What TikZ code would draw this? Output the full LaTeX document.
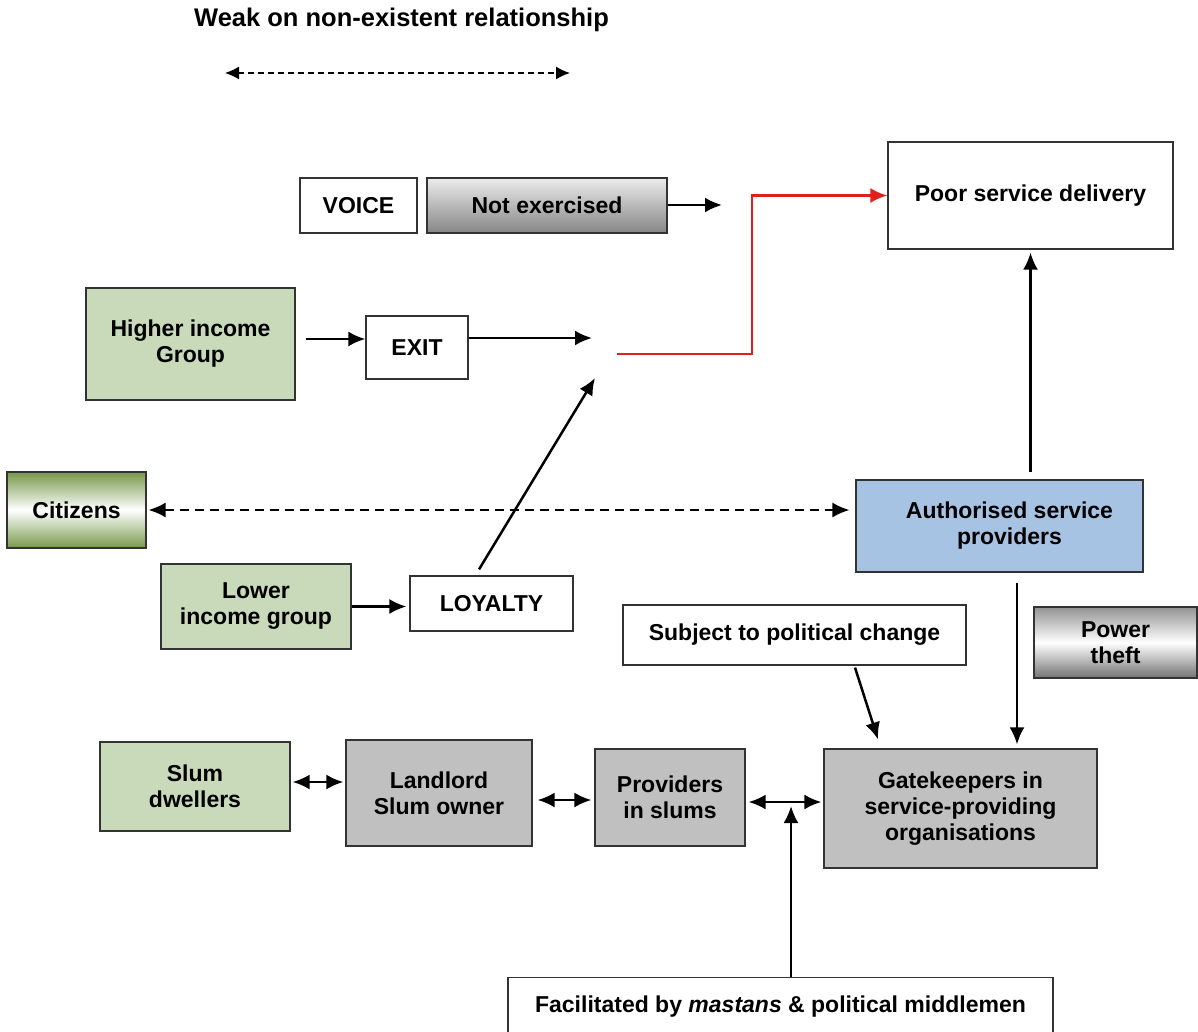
\documentclass[tikz,border=0pt]{standalone}
\usepackage{fontspec}
\setmainfont{Liberation Sans}
\usetikzlibrary{arrows.meta}
\definecolor{gfill}{HTML}{C8DAB9}
\definecolor{bfill}{HTML}{A7C3E4}
\definecolor{grfill}{HTML}{C0C0C0}
\definecolor{edge}{HTML}{333333}
\definecolor{olive}{HTML}{77984A}
\definecolor{redline}{HTML}{E0201B}
\begin{document}
\begin{tikzpicture}[x=1pt,y=-1pt,
  box/.style={draw=edge, line width=1.2pt, align=center, inner sep=0pt,
    font=\fontsize{23}{26}\selectfont\bfseries},
  arr/.style={line width=2.5pt, -{Latex[length=17pt,width=15pt]}},
  darr/.style={line width=2.5pt, {Latex[length=17pt,width=15pt]}-{Latex[length=17pt,width=15pt]}},
  green/.style={box, fill=gfill},
  grey/.style={box, fill=grfill}]
\useasboundingbox (0,0) rectangle (1198,1032);
\clip (0,0) rectangle (1198,1032);

\node[font=\fontsize{25.5}{28}\selectfont\bfseries] (title) at (401.5,20) {Weak on non-existent relationship};
\coordinate (la) at (225,73);
\coordinate (lb) at (570,73);
\draw[line width=1.4pt, dash pattern=on 6pt off 4pt, {Latex[length=14pt,width=13pt]}-{Latex[length=14pt,width=13pt]}] (la) -- (lb);

\node[box, minimum width=117, minimum height=55] (voice) at (358.5,205.5) {VOICE};
\node[box, minimum width=240, minimum height=55, top color=gray!15, bottom color=gray!95!white] (notex) at (547,205.5) {Not exercised};
\node[box, minimum width=285, minimum height=107] (poor) at (1030.5,195.5) {Poor service delivery};
\node[green, minimum width=209, minimum height=112] (higher) at (190.5,344) {Higher income\\Group};
\node[box, minimum width=102, minimum height=63] (exit) at (417,347.5) {EXIT};
\node[box, minimum width=139, minimum height=76, top color=olive, bottom color=olive, middle color=white] (citizens) at (76.5,510) {Citizens};
\node[box, fill=bfill, minimum width=287, minimum height=92] (auth) at (999.5,526) {\hspace*{20pt}Authorised service\\\hspace*{20pt}providers};
\node[green, minimum width=190, minimum height=85] (lower) at (256,606.5) {Lower\\income group};
\node[box, minimum width=163, minimum height=55] (loyalty) at (491.5,603.5) {LOYALTY};
\node[box, minimum width=343, minimum height=60] (subject) at (794.5,635) {Subject to political change};
\node[box, minimum width=163, minimum height=71, top color=gray!85!white, bottom color=gray!110, middle color=white] (power) at (1115.5,642.5) {Power\\theft};
\node[green, minimum width=190, minimum height=89] (slum) at (195,786.5) {Slum\\dwellers};
\node[grey, minimum width=186, minimum height=106] (landlord) at (439,793) {Landlord\\Slum owner};
\node[grey, minimum width=150, minimum height=97] (providers) at (670,797.5) {Providers\\in slums};
\node[grey, minimum width=273, minimum height=119] (gate) at (960.5,808.5) {Gatekeepers in\\service-providing\\organisations};
\node[box, anchor=north, minimum width=545, minimum height=70] (facil) at (780.5,977) {\raisebox{16pt}{Facilitated by \textit{mastans} \& political middlemen}};

\coordinate (vend) at (722,205);
\coordinate (eend) at (592,338);
\coordinate (lend) at (595,378);
\coordinate (rstart) at (617,354);
\coordinate (pjoin) at (791,806);

\draw[arr] (notex.east |- vend) -- (vend);
\draw[arr] ([xshift=10pt,yshift=5pt]higher.east) -- ([yshift=8.5pt]exit.west);
\draw[arr] (exit.east |- eend) -- (eend);
\draw[line width=2.5pt, redline, -{Latex[length=17pt,width=15pt]}] (rstart) -- ++(135,0) |- (poor.west);
\draw[arr] ([xshift=-12.5pt,yshift=6pt]loyalty.north) -- (lend);
\draw[line width=2pt, dash pattern=on 9pt off 6pt, {Latex[length=17pt,width=15pt]}-{Latex[length=17pt,width=15pt]}] ([xshift=2pt]citizens.east) -- ([xshift=-6pt]citizens.east -| auth.west);
\draw[arr] ([yshift=7pt]auth.north -| poor.south) -- ([yshift=-3pt]poor.south);
\draw[arr] (lower.east) -- ([xshift=-3pt]lower.east -| loyalty.west);
\draw[arr] ([xshift=60.5pt,yshift=-2pt]subject.south) -- ([xshift=-82.5pt,yshift=9pt]gate.north);
\draw[arr] ([xshift=17.5pt,yshift=-10pt]auth.south) -- ([xshift=56.5pt,yshift=4pt]gate.north);
\draw[darr] ([xshift=2pt,yshift=4.5pt]slum.east) -- ([xshift=-2pt,yshift=4.5pt]slum.east -| landlord.west);
\draw[darr] ([xshift=5pt,yshift=-2.5pt]landlord.east |- providers.west) -- ([xshift=-3pt,yshift=-2.5pt]providers.west);
\draw[darr] ([xshift=3pt,yshift=-4.5pt]providers.east) -- ([xshift=-2pt,yshift=-4.5pt]providers.east -| gate.west);
\draw[arr] ([xshift=10.5pt]facil.north) -- (pjoin);
\end{tikzpicture}
\end{document}
